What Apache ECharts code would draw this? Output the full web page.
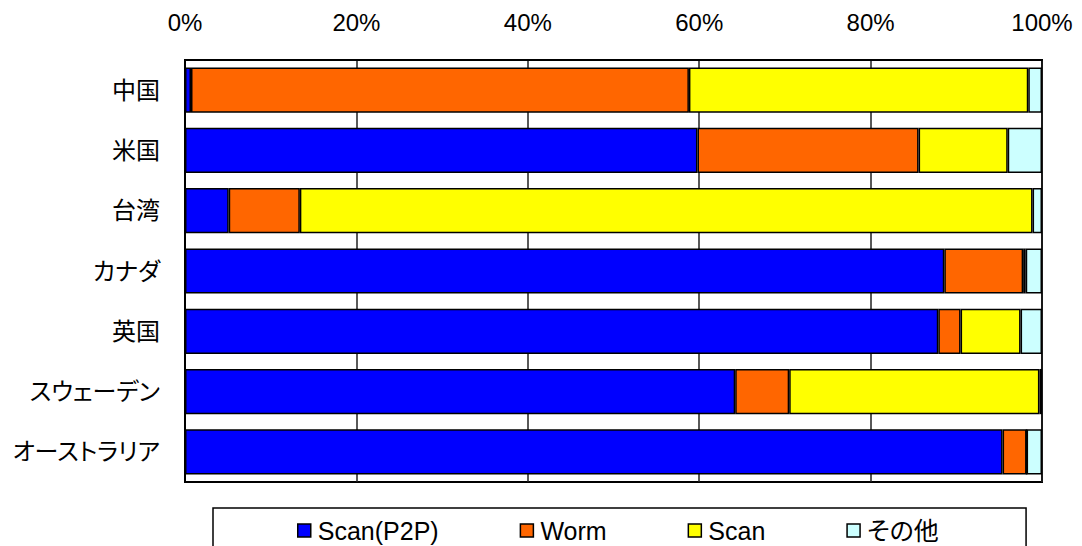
<!DOCTYPE html>
<html>
<head>
<meta charset="utf-8">
<script src="https://cdn.jsdelivr.net/npm/echarts@6/dist/echarts.min.js"></script>
<style>
  html, body { margin: 0; padding: 0; background: #fff; }
  #chart { width: 1082px; height: 546px; }
  /* proportional kana/kanji spacing for the Japanese labels */
  #chart text { font-feature-settings: "palt" 1; }
</style>
</head>
<body>
<div id="chart"></div>
<script>
// Share of attack types by source country (%)
const categories = ['中国', '米国', '台湾', 'カナダ', '英国', 'スウェーデン', 'オーストラリア'];
const seriesNames = ['Scan(P2P)', 'Worm', 'Scan', 'その他'];
const scanP2P = [0.7, 59.8, 5.1, 88.6, 87.9, 64.2, 95.4];
const worm    = [58.1, 25.8, 8.3, 9.2, 2.6, 6.3, 2.8];
const scan    = [39.6, 10.4, 85.5, 0.3, 7.0, 29.2, 0];
const other   = [1.6, 4.0, 1.1, 1.9, 2.5, 0.3, 1.8];
const colors  = ['#0000FF', '#FF6600', '#FFFF00', '#CCFFFF'];

const FONT = '"Liberation Sans", Arial, "Noto Sans CJK JP", sans-serif';
const values = [scanP2P, worm, scan, other];

const chart = echarts.init(document.getElementById('chart'), null, { renderer: 'svg' });
chart.setOption({
  animation: false,
  backgroundColor: '#fff',
  color: colors,
  textStyle: { fontFamily: FONT, color: '#000' },
  grid: {
    left: 185, right: 40, top: 60, bottom: 64,
    containLabel: false,
    outerBoundsMode: 'none',
    show: true, borderColor: '#000', borderWidth: 2
  },
  legend: {
    left: 213, top: 508,
    padding: [10, 84, 8, 84],
    borderColor: '#000', borderWidth: 1.5,
    itemGap: 81,
    itemWidth: 13, itemHeight: 13,
    icon: 'rect',
    itemStyle: { borderColor: '#000', borderWidth: 1.5 },
    textStyle: { fontSize: 25, color: '#000', fontFamily: FONT, padding: [0, 0, 0, 2] },
    data: seriesNames
  },
  xAxis: {
    type: 'value', position: 'top',
    min: 0, max: 100, interval: 20,
    axisLine: { show: true, lineStyle: { color: '#000', width: 2 } },
    axisTick: { show: false },
    axisLabel: { formatter: '{value}%', fontSize: 24, color: '#000', margin: 26, fontFamily: FONT },
    splitLine: { show: true, lineStyle: { color: '#222', width: 1.5 } }
  },
  yAxis: {
    type: 'category', inverse: true, data: categories,
    axisLine: { show: true, lineStyle: { color: '#000', width: 2 } },
    axisTick: { show: false },
    axisLabel: { fontSize: 24, color: '#000', margin: 25, fontFamily: FONT }
  },
  series: seriesNames.map((name, i) => ({
    name: name,
    type: 'bar',
    stack: 'total',
    barCategoryGap: '25%',
    data: values[i],
    itemStyle: { color: colors[i], borderColor: '#000', borderWidth: 1.5 }
  }))
});
</script>
</body>
</html>
